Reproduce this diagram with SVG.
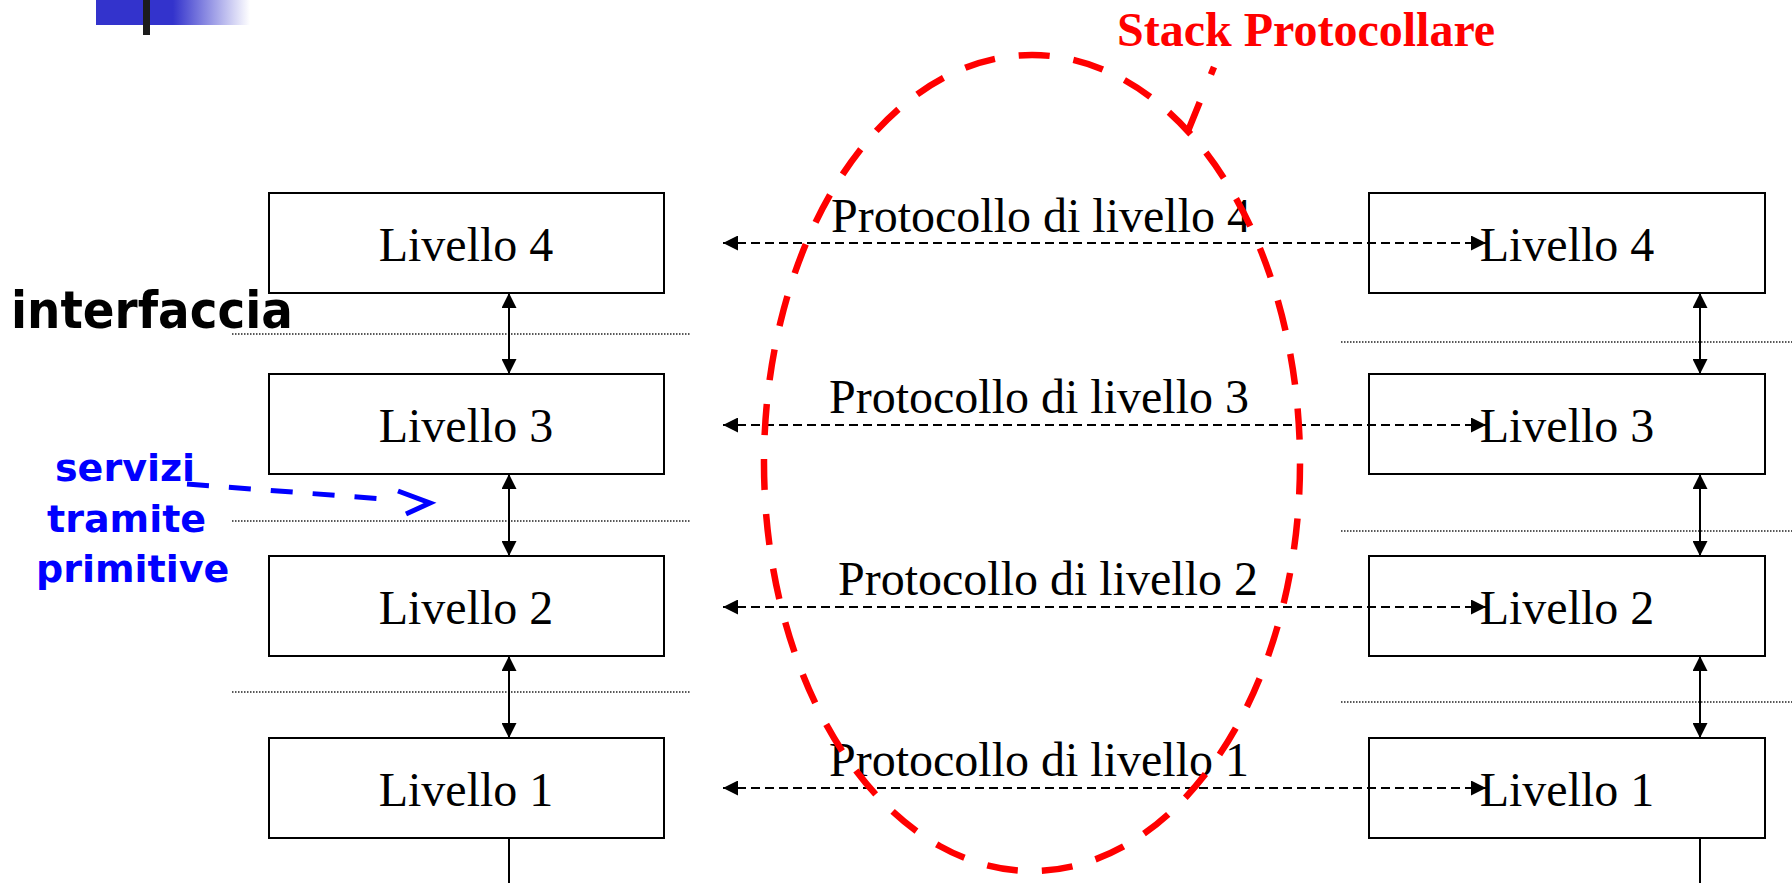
<svg xmlns="http://www.w3.org/2000/svg" width="1792" height="883" viewBox="0 0 1792 883">
  <defs>
    <linearGradient id="logoFade" x1="0" y1="0" x2="1" y2="0">
      <stop offset="0" stop-color="#3333cc"/>
      <stop offset="0.5" stop-color="#3333cc"/>
      <stop offset="1" stop-color="#3333cc" stop-opacity="0"/>
    </linearGradient>
    <!-- solid head used on both ends of layer links -->
    <marker id="head" viewBox="0 0 15 15" refX="15" refY="7.5" markerWidth="15" markerHeight="15" markerUnits="userSpaceOnUse" orient="auto-start-reverse">
      <path d="M0,0 L15,7.5 L0,15 Z" fill="#000"/>
    </marker>
  </defs>
  <style>
    .box { fill: #fff; stroke: #000; stroke-width: 2; }
    .lbl { font-family: "Liberation Serif", "Times New Roman", serif; font-size: 48px; fill: #000; text-anchor: middle; }
    .proto { font-family: "Liberation Serif", "Times New Roman", serif; font-size: 48px; fill: #000; }
    .peer { stroke: #000; stroke-width: 2; stroke-dasharray: 9 5; fill: none; }
    .iface { stroke: #000; stroke-width: 2; fill: none; }
    .sep { stroke: #222; stroke-width: 1.5; stroke-dasharray: 1.5 1.5; }
    .note { font-family: "DejaVu Sans", Verdana, sans-serif; font-weight: bold; }
    .stack { fill: none; stroke: #ff0000; stroke-width: 6.5; stroke-dasharray: 31 24; }
  </style>

  <rect width="1792" height="883" fill="#fff"/>

  <!-- corner logo -->
  <g id="logo">
    <rect x="96" y="0" width="154" height="25" fill="url(#logoFade)"/>
    <rect x="143" y="0" width="7" height="35" fill="#1c1c1c"/>
  </g>

  <!-- interface separators -->
  <g id="separators">
    <line class="sep" x1="232" y1="334" x2="690" y2="334"/>
    <line class="sep" x1="232" y1="521" x2="690" y2="521"/>
    <line class="sep" x1="232" y1="692" x2="690" y2="692"/>
    <line class="sep" x1="1341" y1="342" x2="1792" y2="342"/>
    <line class="sep" x1="1341" y1="531" x2="1792" y2="531"/>
    <line class="sep" x1="1341" y1="702" x2="1792" y2="702"/>
  </g>

  <!-- left stack -->
  <g id="left-l4"><rect class="box" x="269" y="193" width="395" height="100"/><text class="lbl" x="466" y="261">Livello 4</text></g>
  <g id="left-l3"><rect class="box" x="269" y="374" width="395" height="100"/><text class="lbl" x="466" y="442">Livello 3</text></g>
  <g id="left-l2"><rect class="box" x="269" y="556" width="395" height="100"/><text class="lbl" x="466" y="624">Livello 2</text></g>
  <g id="left-l1"><rect class="box" x="269" y="738" width="395" height="100"/><text class="lbl" x="466" y="806">Livello 1</text></g>

  <!-- right stack -->
  <g id="right-l4"><rect class="box" x="1369" y="193" width="396" height="100"/><text class="lbl" x="1567" y="261">Livello 4</text></g>
  <g id="right-l3"><rect class="box" x="1369" y="374" width="396" height="100"/><text class="lbl" x="1567" y="442">Livello 3</text></g>
  <g id="right-l2"><rect class="box" x="1369" y="556" width="396" height="100"/><text class="lbl" x="1567" y="624">Livello 2</text></g>
  <g id="right-l1"><rect class="box" x="1369" y="738" width="396" height="100"/><text class="lbl" x="1567" y="806">Livello 1</text></g>

  <!-- links between layers and peer protocols -->
  <g id="connectors">
    <line class="iface" x1="509" y1="293" x2="509" y2="374" marker-start="url(#head)" marker-end="url(#head)"/>
    <line class="iface" x1="509" y1="474" x2="509" y2="556" marker-start="url(#head)" marker-end="url(#head)"/>
    <line class="iface" x1="509" y1="656" x2="509" y2="738" marker-start="url(#head)" marker-end="url(#head)"/>
    <line class="iface" x1="509" y1="838" x2="509" y2="883"/>
    <line class="iface" x1="1700" y1="293" x2="1700" y2="374" marker-start="url(#head)" marker-end="url(#head)"/>
    <line class="iface" x1="1700" y1="474" x2="1700" y2="556" marker-start="url(#head)" marker-end="url(#head)"/>
    <line class="iface" x1="1700" y1="656" x2="1700" y2="738" marker-start="url(#head)" marker-end="url(#head)"/>
    <line class="iface" x1="1700" y1="838" x2="1700" y2="883"/>

    <line class="peer" x1="723" y1="243" x2="1486" y2="243" marker-start="url(#head)" marker-end="url(#head)"/>
    <line class="peer" x1="723" y1="425" x2="1486" y2="425" marker-start="url(#head)" marker-end="url(#head)"/>
    <line class="peer" x1="723" y1="607" x2="1486" y2="607" marker-start="url(#head)" marker-end="url(#head)"/>
    <line class="peer" x1="723" y1="788" x2="1486" y2="788" marker-start="url(#head)" marker-end="url(#head)"/>
  </g>

  <!-- peer protocol labels -->
  <g id="protocol-labels">
    <text class="proto" x="831" y="232">Protocollo di livello 4</text>
    <text class="proto" x="829" y="413">Protocollo di livello 3</text>
    <text class="proto" x="838" y="595">Protocollo di livello 2</text>
    <text class="proto" x="829" y="776">Protocollo di livello 1</text>
  </g>

  <!-- interface caption -->
  <g id="interface-note">
    <text class="note" x="11" y="328" font-size="51" textLength="282" lengthAdjust="spacingAndGlyphs" fill="#000">interfaccia</text>
  </g>

  <!-- service primitives caption with pointer -->
  <g id="services-note">
    <text class="note" font-size="38" fill="#0000ff">
      <tspan x="55" y="481">servizi</tspan>
      <tspan x="47" y="532">tramite</tspan>
      <tspan x="36" y="582">primitive</tspan>
    </text>
    <line x1="187" y1="484" x2="396" y2="500" stroke="#0000ff" stroke-width="5" stroke-dasharray="22 20"/>
    <polyline points="398,491 430,503 406,514" fill="none" stroke="#0000ff" stroke-width="5"/>
  </g>

  <!-- protocol stack callout: ellipse centred at (1032,463), rx 268, ry 408 -->
  <g id="stack-callout">
    <path class="stack" pathLength="2145" d="M1124.4,80 A268,408 0 0,1 939.6,846 A268,408 0 0,1 1124.4,80 Z"/>
    <line x1="1188" y1="131" x2="1214" y2="67" stroke="#ff0000" stroke-width="6.5" stroke-dasharray="31 30"/>
    <text x="1117" y="46" font-family="'Liberation Serif', 'Times New Roman', serif" font-weight="bold" font-size="48" fill="#ff0000">Stack Protocollare</text>
  </g>
</svg>
